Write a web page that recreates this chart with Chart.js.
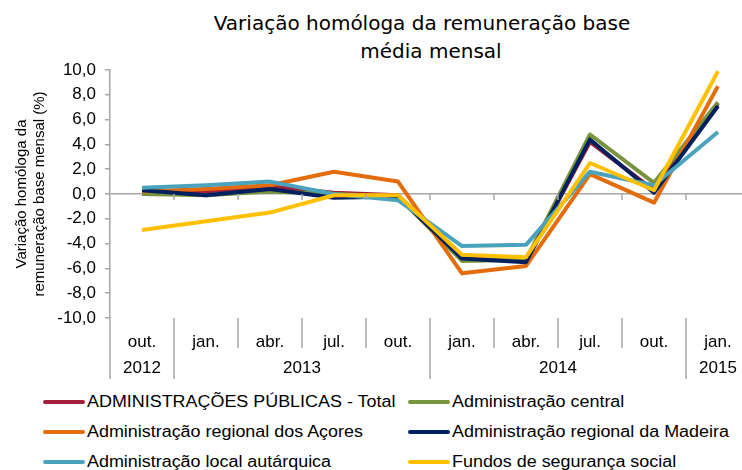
<!DOCTYPE html>
<html>
<head>
<meta charset="utf-8">
<script src="https://cdn.jsdelivr.net/npm/chart.js@4"></script>
<style>
  html, body { margin: 0; padding: 0; background: #fff; overflow: hidden; }
  #page { position: relative; width: 742px; height: 470px; overflow: hidden; }
  #wrap { position: absolute; left: 0; top: 0; width: 760px; height: 390px; }
  .title { position: absolute; font-family: "DejaVu Sans", sans-serif; font-size: 20px; line-height: 28px; color: #000; white-space: nowrap; transform: translateX(-50%); }
  .leg { position: absolute; display: flex; align-items: center; height: 20px; font-family: "Liberation Sans", Arial, sans-serif; font-size: 16px; color: #000; white-space: nowrap; }
  .leg span.swatch { display: inline-block; width: 42px; height: 4px; border-radius: 2px; margin-right: 2px; }
  .leg span.txt { display: inline-block; transform: scaleX(1.12); transform-origin: left center; }
</style>
</head>
<body>
<div id="page">
  <div class="title" style="left:422px; top:9px;">Variação homóloga da remuneração base</div>
  <div class="title" style="left:431px; top:37px;">média mensal</div>
  <div id="wrap"><canvas id="lineChart"></canvas></div>
  <div id="legend"></div>
</div>
<script>
const months = ["out.", "jan.", "abr.", "jul.", "out.", "jan.", "abr.", "jul.", "out.", "jan."];
// years and the first / last category index they cover
const years = ["2012", "2013", "2014", "2015"];
const yearStart = [0, 1, 5, 9];
const yearEnd = [0, 4, 8, 9];

const seriesNames = [
  "ADMINISTRAÇÕES PÚBLICAS - Total",
  "Administração central",
  "Administração regional dos Açores",
  "Administração regional da Madeira",
  "Administração local autárquica",
  "Fundos de segurança social"
];
const seriesColors = ["#a21f3a", "#77933c", "#e46c0a", "#002060", "#4aa3bd", "#ffc000"];

const total = [0.2, 0.2, 0.6, 0.1, -0.1, -5.2, -5.4, 4.2, 0.3, 7.3];
const central = [0.0, -0.1, 0.2, 0.0, -0.2, -5.4, -5.3, 4.8, 0.9, 7.4];
const acores = [0.2, 0.4, 0.7, 1.8, 1.0, -6.4, -5.8, 1.6, -0.7, 8.7];
const madeira = [0.3, -0.1, 0.4, -0.3, -0.2, -5.2, -5.5, 4.4, 0.1, 7.1];
const local = [0.5, 0.7, 1.0, 0.0, -0.5, -4.2, -4.1, 1.8, 0.7, 5.0];
const fundos = [-2.9, -2.2, -1.5, -0.1, -0.1, -4.9, -5.1, 2.5, 0.3, 9.9];
const seriesValues = [total, central, acores, madeira, local, fundos];

const axisGray = "#a6a6a6";
const labelFont = { family: "'Liberation Sans', Arial, sans-serif", size: 17 };

// year row + separators under the month labels, like the Excel original
const yearRows = {
  id: "yearRows",
  afterDraw(chart) {
    const { ctx, chartArea } = chart;
    const x = chart.scales.x;
    const y = chart.scales.y;
    const step = x.getPixelForValue(1) - x.getPixelForValue(0);
    const zeroY = y.getPixelForValue(0);
    ctx.save();
    ctx.strokeStyle = axisGray;
    ctx.lineWidth = 1.5;
    for (let i = 0; i <= months.length; i++) {
      const px = x.getPixelForValue(0) - step / 2 + i * step;
      const isYearEdge = i === 0 || yearStart.includes(i);
      // small tick on the zero line
      if (i > 0 && i < months.length) {
        ctx.beginPath();
        ctx.moveTo(px, zeroY);
        ctx.lineTo(px, zeroY + 6);
        ctx.stroke();
      }
      if (i === months.length) continue;
      ctx.beginPath();
      ctx.moveTo(px, chartArea.bottom);
      ctx.lineTo(px, isYearEdge ? chartArea.bottom + 61 : chartArea.bottom + 30);
      ctx.stroke();
    }
    ctx.fillStyle = "#000";
    ctx.font = "17px 'Liberation Sans', Arial, sans-serif";
    ctx.textAlign = "center";
    ctx.textBaseline = "middle";
    years.forEach((yr, k) => {
      const cx = (x.getPixelForValue(yearStart[k]) + x.getPixelForValue(yearEnd[k])) / 2;
      ctx.fillText(yr, cx, chartArea.bottom + 50);
    });
    ctx.restore();
  }
};

const ctx = document.getElementById("lineChart").getContext("2d");
const chart = new Chart(ctx, {
  type: "line",
  data: {
    labels: months,
    datasets: seriesNames.map((name, i) => ({
      label: name,
      data: seriesValues[i],
      borderColor: seriesColors[i],
      backgroundColor: seriesColors[i],
      borderWidth: 4,
      pointRadius: 0,
      pointHoverRadius: 0,
      tension: 0,
      borderJoinStyle: "round",
      order: seriesNames.length - i // later series on top
    }))
  },
  options: {
    responsive: true,
    maintainAspectRatio: false,
    animation: false,
    layout: { padding: { left: 0, top: 70, right: 10, bottom: 32 } },
    plugins: {
      legend: { display: false },
      tooltip: { enabled: false }
    },
    scales: {
      x: {
        type: "category",
        offset: true,
        grid: { display: false },
        border: { display: false },
        ticks: { color: "#000", font: labelFont, padding: 6, maxRotation: 0, autoSkip: false },
        afterFit(scale) { scale.height = 40; }
      },
      y: {
        min: -10,
        max: 10,
        ticks: {
          stepSize: 2,
          color: "#000",
          font: labelFont,
          padding: 9,
          callback: v => v.toFixed(1).replace(".", ",")
        },
        grid: {
          drawOnChartArea: true,
          color: c => (c.tick && c.tick.value === 0 ? axisGray : "rgba(0,0,0,0)"),
          tickColor: axisGray,
          tickLength: 5,
          lineWidth: 1.5
        },
        border: { display: true, color: axisGray, width: 1.5 },
        title: {
          display: true,
          text: ["Variação homóloga da", "remuneração base mensal (%)"],
          color: "#000",
          font: { family: "'Liberation Sans', Arial, sans-serif", size: 15, lineHeight: 1.25 },
          padding: { top: 12, bottom: 0 }
        },
        afterFit(scale) { scale.width = 110; }
      }
    }
  },
  plugins: [yearRows]
});

// legend in two columns, built from the same series arrays
const legend = document.getElementById("legend");
const colLeft = [43, 408];
const rowTop = [392, 422, 452];
seriesNames.forEach((name, i) => {
  const item = document.createElement("div");
  item.className = "leg";
  item.style.left = colLeft[i % 2] + "px";
  item.style.top = rowTop[Math.floor(i / 2)] + "px";
  item.innerHTML = `<span class="swatch" style="background:${seriesColors[i]}"></span><span class="txt">${name}</span>`;
  legend.appendChild(item);
});
</script>
</body>
</html>
